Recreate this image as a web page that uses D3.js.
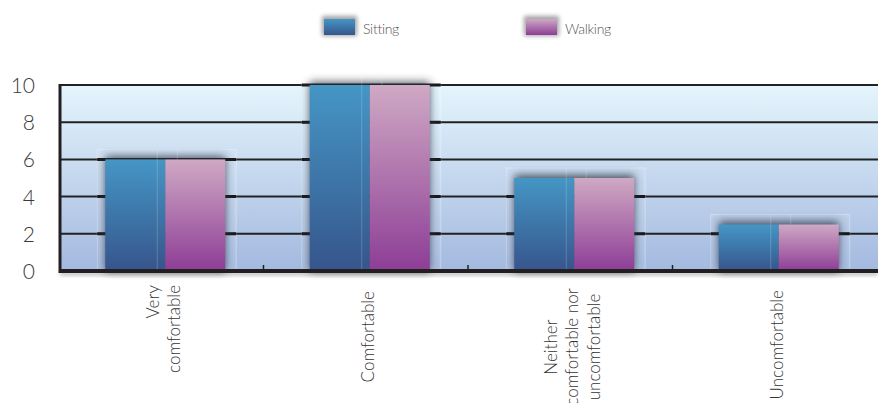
<!DOCTYPE html>
<html><head><meta charset="utf-8">
<script src="https://cdn.jsdelivr.net/npm/d3@7"></script>
<style>body{margin:0;background:#fff}svg{display:block}</style>
</head><body><svg id="c" width="878" height="403"></svg>
<script>
const categories = ["Very comfortable", "Comfortable", "Neither comfortable nor uncomfortable", "Uncomfortable"];
const categoryLines = [["Very", "comfortable"], ["Comfortable"], ["Neither", "comfortable nor", "uncomfortable"], ["Uncomfortable"]];
const seriesNames = ["Sitting", "Walking"];
const sitting = [6, 10, 5, 2.5];
const walking = [6, 10, 5, 2.5];
const yTicks = [0, 2, 4, 6, 8, 10];

const svg = d3.select("#c");
const W = 878, H = 403;
const plotL = 60, plotR = 878, plotT = 85, plotB = 271;
const font = "Lato, 'Open Sans', sans-serif";

const x0 = d3.scaleBand().domain(categories).range([63, 881]).padding(0);
const x1 = d3.scaleBand().domain(seriesNames).range([0, 120]).padding(0);
const y = d3.scaleLinear().domain([0, 10]).range([plotB, plotT]);

const defs = svg.append("defs");
const bg = defs.append("linearGradient").attr("id","bg").attr("x1",0).attr("y1",0).attr("x2",0).attr("y2",1);
bg.append("stop").attr("offset","0%").attr("stop-color","#e5f5fd");
bg.append("stop").attr("offset","100%").attr("stop-color","#a3b9df");
const gS = defs.append("linearGradient").attr("id","gS").attr("x1",0).attr("y1",0).attr("x2",0).attr("y2",1);
gS.append("stop").attr("offset","0%").attr("stop-color","#4596c5");
gS.append("stop").attr("offset","100%").attr("stop-color","#36558c");
const gW = defs.append("linearGradient").attr("id","gW").attr("x1",0).attr("y1",0).attr("x2",0).attr("y2",1);
gW.append("stop").attr("offset","0%").attr("stop-color","#cfa9c4");
gW.append("stop").attr("offset","100%").attr("stop-color","#8d3d96");
const blur = defs.append("filter").attr("id","blur").attr("x","-30%").attr("y","-30%").attr("width","160%").attr("height","160%");
blur.append("feGaussianBlur").attr("stdDeviation",4);
const blur2 = defs.append("filter").attr("id","blur2").attr("x","-30%").attr("y","-100%").attr("width","160%").attr("height","300%");
blur2.append("feGaussianBlur").attr("stdDeviation",2);
const fills = {Sitting: "url(#gS)", Walking: "url(#gW)"};

// background
svg.append("rect").attr("x", plotL).attr("y", plotT).attr("width", plotR - plotL).attr("height", plotB - plotT).attr("fill", "url(#bg)");

// gridlines
svg.append("g").selectAll("line").data(yTicks.filter(d => d > 0)).join("line")
  .attr("x1", plotL).attr("x2", plotR).attr("y1", d => y(d)).attr("y2", d => y(d))
  .attr("stroke", "#222").attr("stroke-width", 2);

const data = categories.map((c, i) => ({cat: c, vals: [{s: "Sitting", v: sitting[i]}, {s: "Walking", v: walking[i]}]}));

const groups = svg.append("g").selectAll("g").data(data).join("g")
  .attr("transform", d => `translate(${x0(d.cat) + x0.bandwidth() / 2 - 60},0)`);

// glass box behind bars
groups.append("rect")
  .attr("x", -8).attr("width", 139)
  .attr("y", d => y(d3.max(d.vals, v => v.v)) - 10)
  .attr("height", d => plotB - y(d3.max(d.vals, v => v.v)) + 10)
  .attr("fill", "#ffffff").attr("fill-opacity", 0.08)
  .attr("stroke", "#ffffff").attr("stroke-opacity", 0.3).attr("stroke-width", 1);
// thicker gridline segments inside glass box
groups.each(function(d) {
  const top = d3.max(d.vals, v => v.v);
  d3.select(this).selectAll("line.gs").data(yTicks.filter(t => t > 0 && t <= top)).join("line")
    .attr("class", "gs").attr("x1", -8).attr("x2", 131).attr("y1", t => y(t)).attr("y2", t => y(t))
    .attr("stroke", "#1a1a1a").attr("stroke-width", 3);
});
// shadow
groups.append("rect")
  .attr("x", 0).attr("width", 120)
  .attr("y", d => y(d3.max(d.vals, v => v.v)) - 3)
  .attr("height", d => plotB - y(d3.max(d.vals, v => v.v)) + 3)
  .attr("fill", "#2a3040").attr("opacity", 0.8).attr("filter", "url(#blur)");
// bars
groups.selectAll("rect.bar").data(d => d.vals).join("rect").attr("class", "bar")
  .attr("x", d => x1(d.s)).attr("width", x1.bandwidth())
  .attr("y", d => y(d.v)).attr("height", d => plotB - y(d.v))
  .attr("fill", d => fills[d.s]);
// faint inner lines
groups.append("line").attr("x1", 52).attr("x2", 52)
  .attr("y1", d => y(d3.max(d.vals, v => v.v)) - 10).attr("y2", plotB)
  .attr("stroke", "#ffffff").attr("stroke-opacity", 0.2);
groups.append("line").attr("x1", 72).attr("x2", 72)
  .attr("y1", d => y(d3.max(d.vals, v => v.v)) - 10).attr("y2", d => y(d3.max(d.vals, v => v.v)))
  .attr("stroke", "#ffffff").attr("stroke-opacity", 0.2);

// bottom axis shadow + line
svg.append("rect").attr("x", plotL).attr("y", plotB + 1).attr("width", plotR - plotL).attr("height", 3)
  .attr("fill", "#000").attr("opacity", 0.35).attr("filter", "url(#blur2)");
svg.append("line").attr("x1", plotL - 1).attr("x2", plotR).attr("y1", plotB).attr("y2", plotB)
  .attr("stroke", "#231f20").attr("stroke-width", 4);
// left axis
svg.append("line").attr("x1", plotL).attr("x2", plotL).attr("y1", plotT - 1).attr("y2", plotB + 2)
  .attr("stroke", "#231f20").attr("stroke-width", 3);
// category boundary ticks
svg.append("g").selectAll("line").data(categories.slice(1)).join("line")
  .attr("x1", d => x0(d) - 4).attr("x2", d => x0(d) - 4).attr("y1", plotB - 6).attr("y2", plotB)
  .attr("stroke", "#231f20").attr("stroke-width", 1.5);

// y axis labels
const yAxis = d3.axisLeft(y).tickValues(yTicks).tickSize(0).tickPadding(0);
const ya = svg.append("g").attr("transform", "translate(35,0)").call(yAxis);
ya.select(".domain").remove();
ya.selectAll("text").attr("font-family", font).attr("font-weight", 300).attr("font-size", 21).attr("fill", "#3a3a3a").attr("dy", "0.36em");

// x labels
const labelMode = [{a: "end", y: 285}, {a: "end", y: 291}, {a: "middle", y: 347}, {a: "end", y: 290}];
categories.forEach((c, i) => {
  const lines = categoryLines[i];
  const cx = x0(c) + x0.bandwidth() / 2;
  const lh = 21.5;
  lines.forEach((ln, j) => {
    const lx = cx + (j - (lines.length - 1) / 2) * lh + 4;
    const m = labelMode[i];
    svg.append("text").attr("transform", `translate(${lx},${m.y}) rotate(-90)`)
      .attr("text-anchor", m.a).attr("font-family", font).attr("font-weight", 300)
      .attr("font-size", 17).attr("fill", "#333").text(ln);
  });
});

// legend
const legX = [324, 526];
seriesNames.forEach((s, i) => {
  const g = svg.append("g").attr("transform", `translate(${legX[i]},19)`);
  g.append("rect").attr("x", -2).attr("y", -3).attr("width", 35).attr("height", 20).attr("fill", "#333").attr("opacity", 0.45).attr("filter", "url(#blur2)");
  g.append("rect").attr("width", 31).attr("height", 16).attr("fill", fills[s]);
  g.append("text").attr("x", 39).attr("y", 15).attr("font-family", font).attr("font-weight", 300)
    .attr("font-size", 14).attr("fill", "#555").attr("letter-spacing", -0.3).text(s);
});
</script></body></html>
